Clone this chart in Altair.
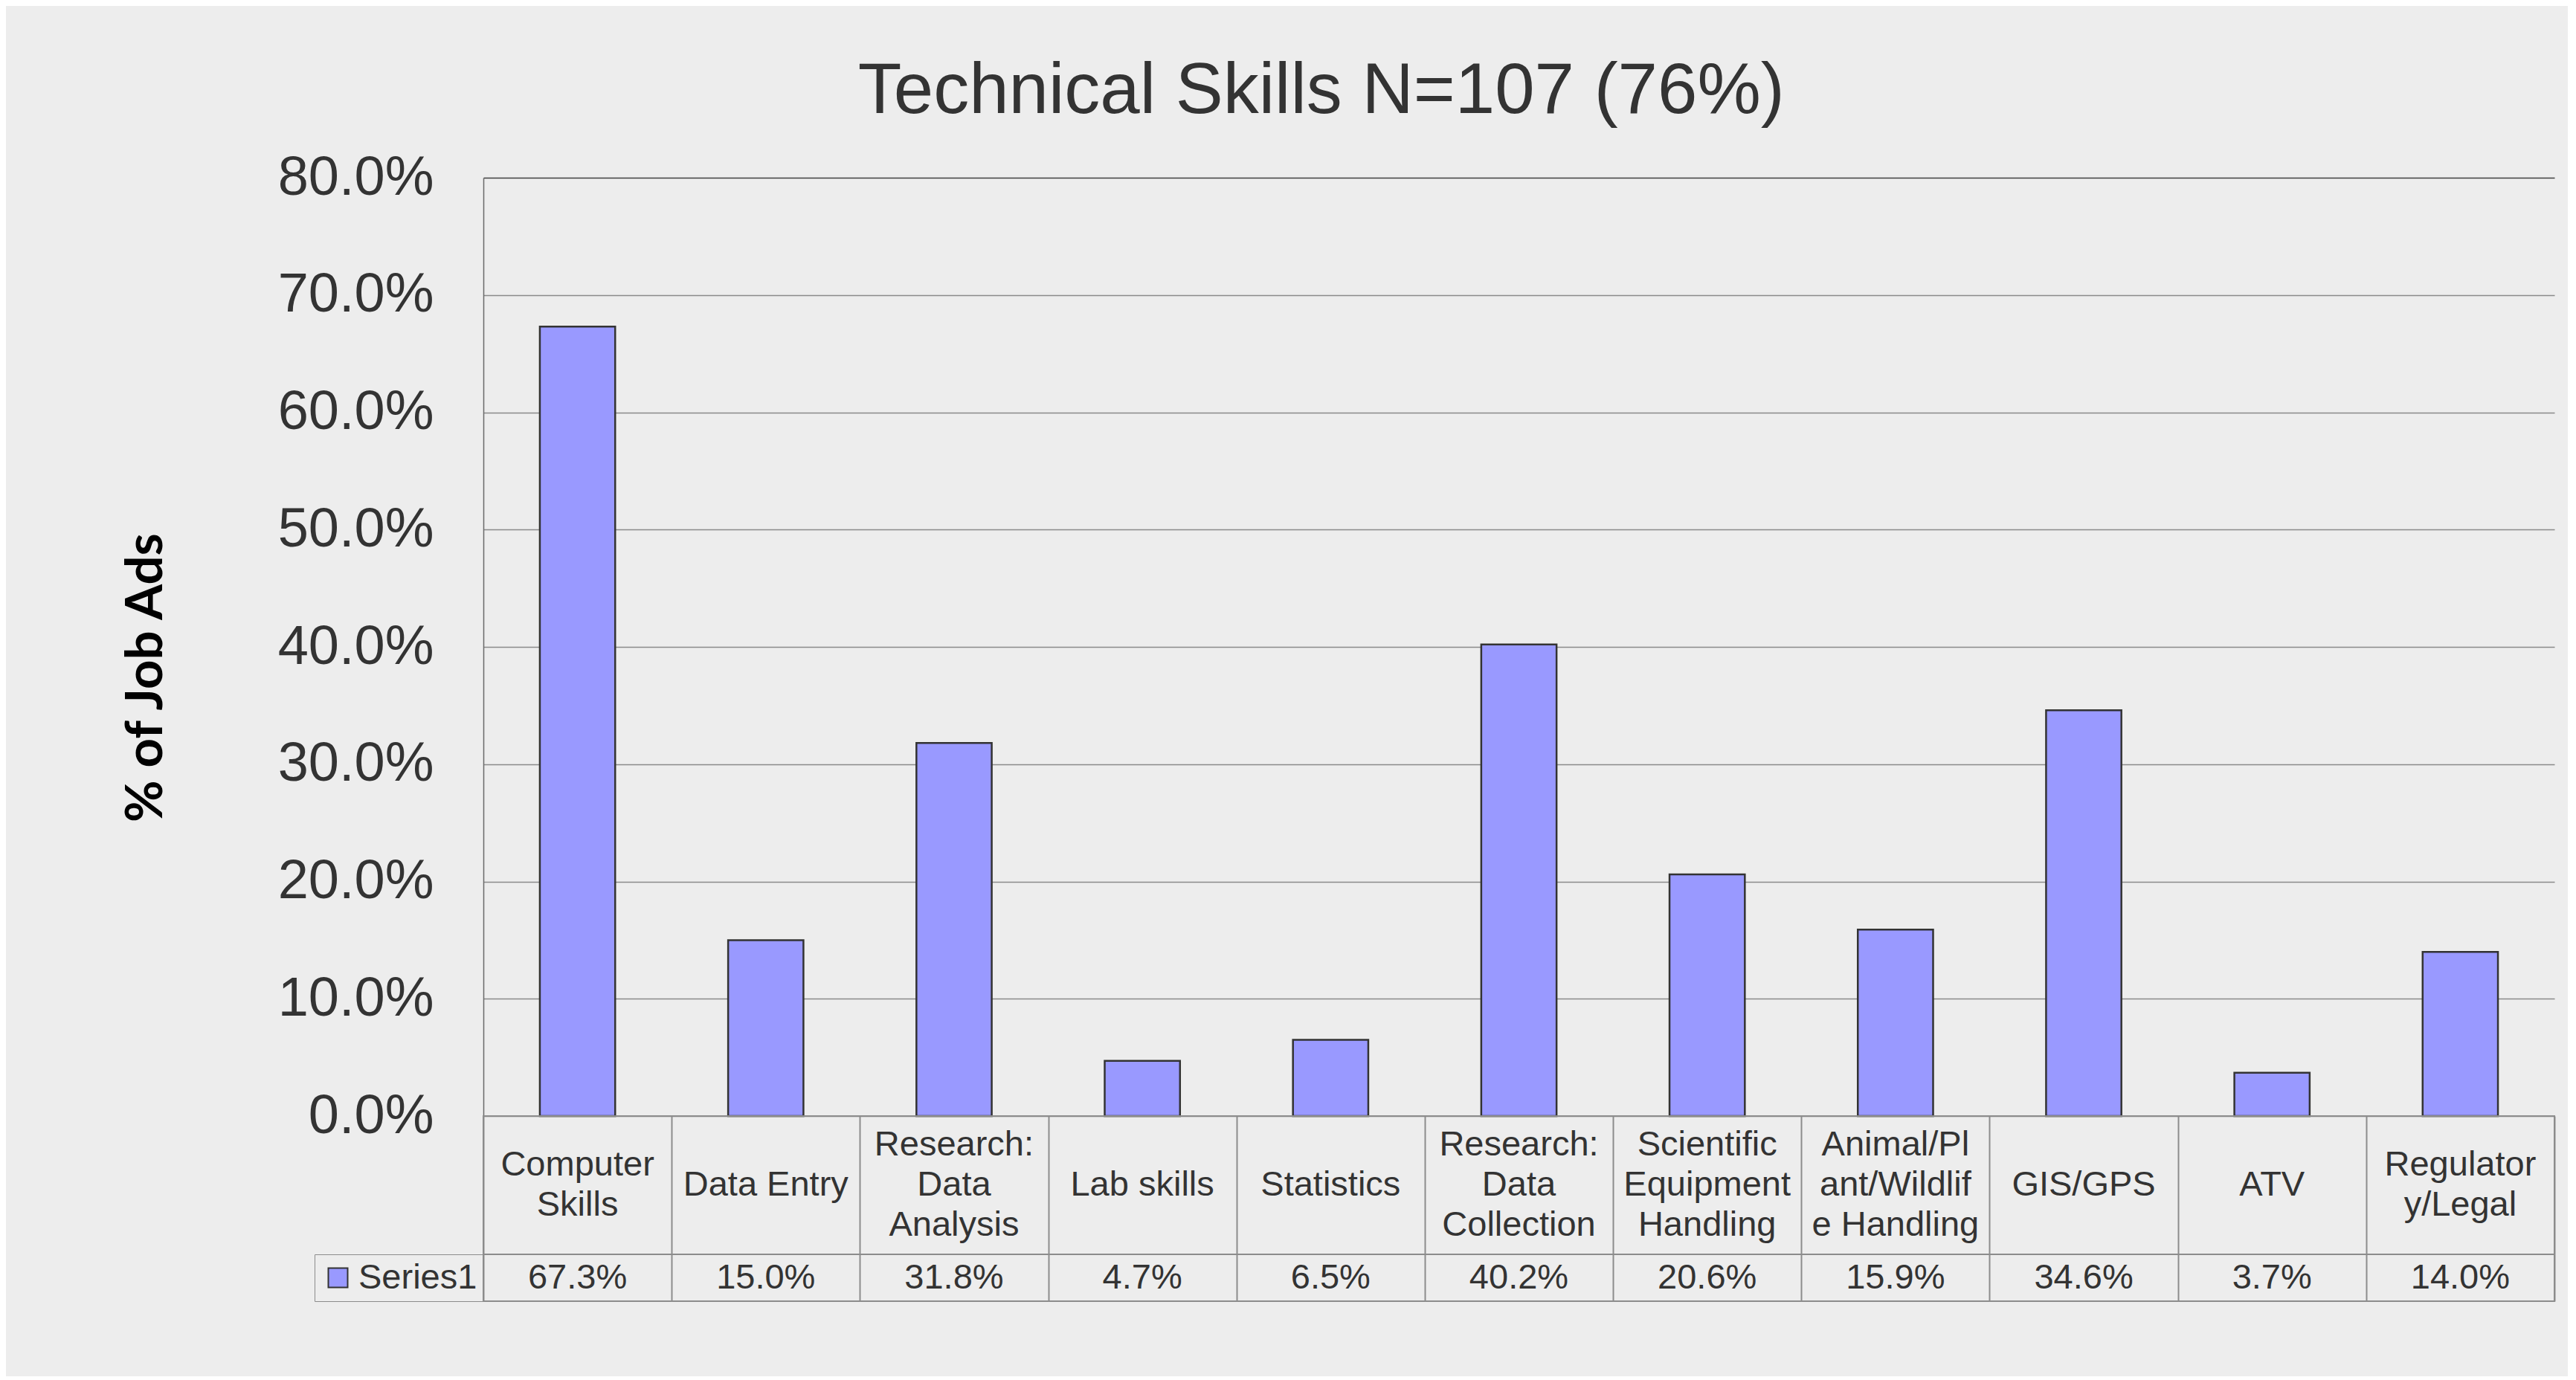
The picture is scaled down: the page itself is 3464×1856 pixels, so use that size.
import altair as alt
import pandas as pd

# ---- data ----
categories = [
    "Computer Skills", "Data Entry", "Research: Data Analysis", "Lab skills",
    "Statistics", "Research: Data Collection", "Scientific Equipment Handling",
    "Animal/Plant/Wildlife Handling", "GIS/GPS", "ATV", "Regulatory/Legal",
]
cell_labels = [
    "Computer\nSkills", "Data Entry", "Research:\nData\nAnalysis", "Lab skills",
    "Statistics", "Research:\nData\nCollection", "Scientific\nEquipment\nHandling",
    "Animal/Pl\nant/Wildlif\ne Handling", "GIS/GPS", "ATV", "Regulator\ny/Legal",
]
shares = [0.673, 0.150, 0.318, 0.047, 0.065, 0.402, 0.206, 0.159, 0.346, 0.037, 0.140]
series_name = "Series1"
y_ticks = [0.0, 0.1, 0.2, 0.3, 0.4, 0.5, 0.6, 0.7, 0.8]
chart_title = "Technical Skills N=107 (76%)"
y_title = "% of Job Ads"

df = pd.DataFrame({
    "category": categories,
    "label": cell_labels,
    "share": shares,
    "series": [series_name] * len(categories),
})

# ---- style ----
BAR_FILL = "#9999ff"
BAR_STROKE = "#333333"
TEXT = "#333333"
TABLE_LINE = "#8c8c8c"
FONT = "Liberation Sans"
W = 2785
LINE_H = 54

x_scale = alt.Scale(domain=categories, paddingInner=0, paddingOuter=0)
table_axis = alt.Axis(grid=True, tickBand="extent", gridColor=TABLE_LINE, gridWidth=2,
                      labels=False, ticks=False, domain=False, title=None)

bars = alt.Chart(df).mark_bar(
    color=BAR_FILL, stroke=BAR_STROKE, strokeWidth=2.5,
    width=alt.RelativeBandSize(0.4),
).encode(
    x=alt.X("category:N", scale=x_scale, sort=categories, axis=None),
    y=alt.Y(
        "share:Q",
        scale=alt.Scale(domain=[0, 0.8], nice=False, zero=True),
        axis=alt.Axis(
            values=y_ticks, format=".1%", title=y_title,
            grid=True, gridWidth=1.5,
            gridColor=alt.condition("datum.value > 0.79", alt.value("#404040"), alt.value("#8a8a8a")),
            ticks=False, domainColor="#6a6a6a", domainWidth=1.5,
            labelFont=FONT, labelFontSize=74, labelColor=TEXT, labelPadding=67, labelLimit=0,
            titleFont="Lato", titleFontWeight="bold", titleFontSize=69,
            titleColor="#000000", titlePadding=219, titleY=672,
        ),
    ),
).properties(width=W, height=1262, view=alt.ViewBackground(stroke="transparent"))

label_row = alt.Chart(df).transform_calculate(
    lift=f"-(length(split(datum.label, '\\n')) - 1) * {LINE_H / 2}"
).mark_text(
    font=FONT, fontSize=47, color=TEXT, lineBreak="\n", lineHeight=LINE_H,
    baseline="middle", align="center",
).encode(
    x=alt.X("category:N", scale=x_scale, sort=categories, axis=table_axis),
    yOffset=alt.YOffset("lift:Q", scale=None),
    text="label:N",
).properties(width=W, height=186, view=alt.ViewBackground(stroke=TABLE_LINE, strokeWidth=2))

value_text = alt.Chart(df).mark_text(
    font=FONT, fontSize=47, color=TEXT, baseline="middle", align="center",
).encode(
    x=alt.X("category:N", scale=x_scale, sort=categories, axis=table_axis),
    text=alt.Text("share:Q", format=".1%"),
)

legend_layer = alt.Chart(df).mark_square(opacity=0, size=676).encode(
    color=alt.Color(
        "series:N",
        scale=alt.Scale(domain=[series_name], range=[BAR_FILL]),
        legend=alt.Legend(
            title=None, orient="left", offset=0, padding=8,
            strokeColor=TABLE_LINE,
            symbolType="square", symbolSize=676, symbolOpacity=1,
            symbolStrokeColor=BAR_STROKE, symbolStrokeWidth=2,
            labelFont=FONT, labelFontSize=47, labelColor=TEXT, labelOffset=4,
        ),
    ),
)

value_row = alt.layer(value_text, legend_layer).properties(
    width=W, height=63, view=alt.ViewBackground(stroke=TABLE_LINE, strokeWidth=2)
)

chart = alt.vconcat(bars, label_row, value_row, spacing=0, bounds="flush").resolve_scale(
    color="independent"
).resolve_legend(color="independent").properties(
    title=alt.Title(chart_title, font=FONT, fontSize=96, fontWeight="normal",
                    color=TEXT, anchor="middle", offset=30, dx=-22),
    padding={"left": 153, "top": 66, "right": 17, "bottom": 99},
    background="#ededed",
)

chart.save("out.html", embed_options={"renderer": "svg", "actions": False})
